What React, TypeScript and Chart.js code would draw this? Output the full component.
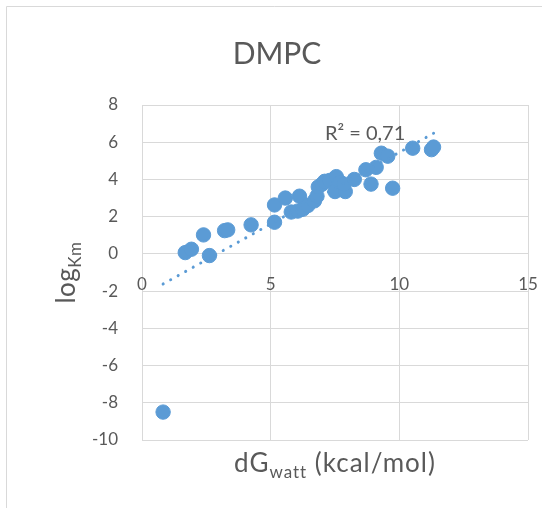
import React, { useEffect, useRef } from "react";
import { Chart, registerables } from "chart.js";

Chart.register(...registerables);

const chartTitle = "DMPC";
const r2Label = "R² = 0,71";
const xTitleMain = "dG";
const xTitleSub = "watt";
const xTitleRest = " (kcal/mol)";
const yTitleMain = "log";
const yTitleSub = "Km";

const xTickValues = [0, 5, 10, 15];
const yRange = [-10, 8];

const dGwatt = [
  0.82, 1.68, 1.92, 2.39, 2.62, 3.21, 3.33, 4.24, 5.15, 5.15, 5.57, 5.8, 6.05,
  6.12, 6.25, 6.45, 6.7, 6.8, 6.85, 7.0, 7.1, 7.3, 7.55, 7.5, 7.7, 7.9, 7.85,
  8.25, 8.7, 9.1, 8.9, 9.3, 9.55, 9.74, 10.52, 11.25, 11.33,
];
const logKm = [
  -8.5, 0.07, 0.25, 1.02, -0.09, 1.25, 1.29, 1.56, 1.7, 2.63, 3.0, 2.25, 2.3,
  3.1, 2.4, 2.6, 2.85, 3.1, 3.6, 3.75, 3.9, 3.95, 4.15, 3.35, 3.85, 3.35, 3.75,
  4.0, 4.52, 4.65, 3.75, 5.41, 5.25, 3.53, 5.68, 5.6, 5.74,
];

function linearFit(xs: number[], ys: number[]) {
  const n = xs.length;
  let sx = 0, sy = 0, sxx = 0, sxy = 0;
  for (let i = 0; i < n; i++) {
    sx += xs[i];
    sy += ys[i];
    sxx += xs[i] * xs[i];
    sxy += xs[i] * ys[i];
  }
  const slope = (n * sxy - sx * sy) / (n * sxx - sx * sx);
  const intercept = (sy - slope * sx) / n;
  return { slope, intercept };
}

const FONT = "Lato, 'Open Sans', sans-serif";
const TEXT = "#595959";
const GRID = "#d9d9d9";
const BLUE = "#5b9bd5";

const textPlugin = {
  id: "excelTexts",
  afterDraw(chart: any) {
    const ctx = chart.ctx as any;
    const area = chart.chartArea;
    ctx.save();
    // outer frame
    ctx.strokeStyle = GRID;
    ctx.lineWidth = 1;
    ctx.beginPath();
    ctx.moveTo(6.5, 508);
    ctx.lineTo(6.5, 6.5);
    ctx.lineTo(542, 6.5);
    ctx.stroke();

    ctx.fillStyle = TEXT;
    ctx.textBaseline = "alphabetic";

    // title
    ctx.font = `30px ${FONT}`;
    ctx.textAlign = "center";
    ctx.fillText(chartTitle, 277, 63.5);

    // R² label
    const xs = chart.scales.x;
    const ys = chart.scales.y;
    ctx.font = `20px ${FONT}`;
    ctx.textBaseline = "middle";
    ctx.fillText(r2Label, xs.getPixelForValue(8.67), ys.getPixelForValue(6.49));
    ctx.textBaseline = "alphabetic";

    // x title with subscript
    const mainF = `26px ${FONT}`;
    const subF = `17px ${FONT}`;
    ctx.letterSpacing = "1px";
    ctx.font = mainF;
    const w1 = ctx.measureText(xTitleMain).width;
    const w3 = ctx.measureText(xTitleRest).width;
    ctx.font = subF;
    const w2 = ctx.measureText(xTitleSub).width;
    const total = w1 + w2 + w3;
    const cx = (area.left + area.right) / 2;
    const x0 = cx - total / 2;
    const base = 472;
    ctx.textAlign = "left";
    ctx.font = mainF;
    ctx.fillText(xTitleMain, x0, base);
    ctx.font = subF;
    ctx.fillText(xTitleSub, x0 + w1, base + 6);
    ctx.font = mainF;
    ctx.fillText(xTitleRest, x0 + w1 + w2, base);

    // y title with subscript (rotated)
    ctx.letterSpacing = "0.5px";
    ctx.font = mainF;
    const v1 = ctx.measureText(yTitleMain).width;
    ctx.font = subF;
    const v2 = ctx.measureText(yTitleSub).width;
    const cy = (area.top + area.bottom) / 2;
    ctx.translate(75, cy);
    ctx.rotate(-Math.PI / 2);
    const start = -(v1 + v2) / 2;
    ctx.font = mainF;
    ctx.fillText(yTitleMain, start, 0);
    ctx.font = subF;
    ctx.fillText(yTitleSub, start + v1, 6);
    ctx.restore();
  },
};

export default function App() {
  const ref = useRef<HTMLCanvasElement | null>(null);

  useEffect(() => {
    if (!ref.current) return;
    const fit = linearFit(dGwatt, logKm);
    const xMin = Math.min(...dGwatt);
    const xMax = Math.max(...dGwatt);
    const points = dGwatt.map((x, i) => ({ x, y: logKm[i] }));
    const trend = [
      { x: xMin, y: fit.intercept + fit.slope * xMin },
      { x: xMax, y: fit.intercept + fit.slope * xMax },
    ];

    const chart = new Chart(ref.current, {
      type: "scatter",
      data: {
        datasets: [
          {
            type: "line",
            data: trend,
            borderColor: BLUE,
            borderWidth: 3,
            borderDash: [0.1, 8.5],
            borderCapStyle: "round",
            pointRadius: 0,
            fill: false,
            order: 0,
          } as any,
          {
            data: points,
            backgroundColor: BLUE,
            borderColor: BLUE,
            borderWidth: 1,
            pointRadius: 7.2,
            pointHoverRadius: 7.2,
            order: 1,
          },
        ],
      },
      options: {
        responsive: false,
        animation: false,
        events: [],
        layout: { padding: { left: 0, right: 14, top: 105, bottom: 68 } },
        plugins: {
          legend: { display: false },
          tooltip: { enabled: false },
          title: { display: false },
        },
        scales: {
          x: {
            type: "linear",
            position: { y: 0 } as any,
            min: xTickValues[0],
            max: xTickValues[xTickValues.length - 1],
            afterBuildTicks: (scale: any) => {
              scale.ticks = xTickValues.map((v) => ({ value: v }));
            },
            afterFit: (scale: any) => {
              scale.paddingLeft = 0;
              scale.paddingRight = 0;
              scale.paddingTop = 0;
              scale.paddingBottom = 0;
            },
            ticks: {
              padding: 20,
              color: TEXT,
              font: { family: FONT, size: 17 },
              maxRotation: 0,
            },
            grid: { color: GRID, lineWidth: 1, drawTicks: false },
            border: { display: false },
          },
          y: {
            type: "linear",
            position: "left",
            min: yRange[0],
            max: yRange[1],
            ticks: {
              stepSize: 2,
              padding: 24,
              color: TEXT,
              font: { family: FONT, size: 17 },
            },
            grid: { color: GRID, lineWidth: 1, drawTicks: false },
            border: { display: false },
            afterFit: (scale: any) => {
              scale.width = 142;
              scale.paddingLeft = 0;
              scale.paddingRight = 0;
              scale.paddingTop = 0;
              scale.paddingBottom = 0;
            },
          },
        },
      },
      plugins: [textPlugin],
    });
    return () => chart.destroy();
  }, []);

  return (
    <div
      style={{
        position: "fixed",
        left: 0,
        top: 0,
        width: 542,
        height: 508,
        background: "#fff",
      }}
    >
      <canvas ref={ref} width={542} height={508} style={{ width: 542, height: 508 }} />
    </div>
  );
}
